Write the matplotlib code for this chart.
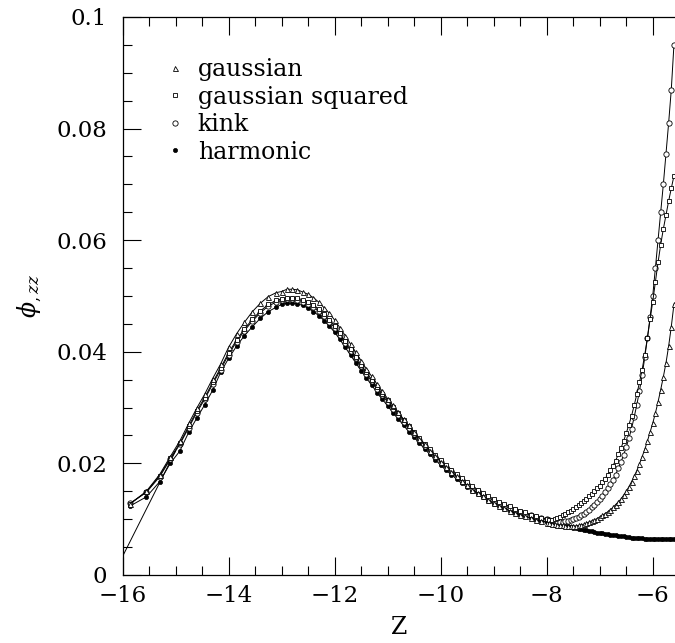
import numpy as np
import matplotlib
matplotlib.use("Agg")
import matplotlib.pyplot as plt
from matplotlib.lines import Line2D
from matplotlib.ticker import MultipleLocator, FuncFormatter

plt.rcParams['font.family'] = ['DejaVu Serif']
plt.rcParams['mathtext.fontset'] = 'dejavuserif'

# z grid: sparse on the left, 0.1 steps over the peak, 0.05 on the rising branches
z_left = [-15.85, -15.55, -15.30, -15.10, -14.92, -14.75, -14.60, -14.45, -14.30,
          -14.15, -14.00, -13.85, -13.70, -13.55, -13.40, -13.25, -13.10]
z_mid = np.linspace(-13.0, -8.0, 51)
z_right = np.linspace(-7.95, -5.60, 48)
z = np.concatenate([z_left, z_mid, z_right])

# gaussian (triangles)
gauss = [.0128, .0150, .0180, .0212, .0240, .0272, .0299, .0324, .0352, .0378, .0408,
         .0432, .0453, .0472, .0487, .0499, .0506,
         .0508, .0512, .0512, .0511, .0507, .0503, .0497, .0489, .0479, .0469, .0457,
         .0443, .0429, .0414, .0399, .0384, .0369, .0356, .0342, .0329, .0316, .0304,
         .0292, .0279, .0268, .0256, .0244, .0234, .0223, .0213, .0203, .0194, .0185,
         .0177, .0168, .0161, .0153, .0147, .0141, .0134, .0129, .0124, .0120, .0115,
         .0111, .0108, .0105, .0102, .0098, .0096, .0094,
         .0093, .0092, .0091, .0090, .0089, .0089, .0088, .0088, .0088, .0088, .0088,
         .0089, .0090, .0091, .0093, .0095, .0097, .0099, .0101, .0104, .0107, .0110,
         .0113, .0117, .0121, .0126, .0131, .0136, .0143, .0150, .0158, .0167, .0177,
         .0187, .0199, .0212, .0225, .0240, .0256, .0272, .0290, .0310, .0332, .0355,
         .0380, .0410, .0445, .0485]

# gaussian squared (squares)
gauss_sq = [.0128, .0149, .0178, .0209, .0236, .0267, .0294, .0318, .0345, .0371, .0398,
            .0421, .0441, .0458, .0473, .0485, .0492,
            .0495, .0497, .0497, .0496, .0493, .0489, .0483, .0476, .0467, .0457, .0446,
            .0433, .0419, .0405, .0391, .0377, .0363, .0350, .0337, .0325, .0313, .0301,
            .0290, .0278, .0267, .0256, .0245, .0235, .0225, .0215, .0206, .0197, .0189,
            .0181, .0173, .0166, .0159, .0153, .0147, .0141, .0136, .0131, .0127, .0123,
            .0119, .0115, .0112, .0108, .0105, .0102, .0100,
            .0099, .0099, .0100, .0102, .0104, .0107, .0109, .0112, .0115, .0118, .0121,
            .0125, .0129, .0133, .0137, .0141, .0145, .0150, .0155, .0160, .0166, .0172,
            .0180, .0188, .0196, .0205, .0216, .0227, .0240, .0254, .0269, .0285, .0304,
            .0324, .0345, .0368, .0395, .0425, .0458, .0490, .0525, .0560, .0592, .0620,
            .0645, .0670, .0693, .0715]

# kink (open circles)
kink = [.0129, .0148, .0176, .0207, .0234, .0264, .0291, .0315, .0342, .0368, .0395,
        .0418, .0438, .0455, .0470, .0482, .0489,
        .0492, .0494, .0494, .0493, .0490, .0486, .0480, .0473, .0464, .0454, .0443,
        .0430, .0416, .0402, .0388, .0374, .0360, .0347, .0334, .0322, .0310, .0298,
        .0287, .0275, .0264, .0253, .0242, .0232, .0222, .0212, .0203, .0194, .0186,
        .0178, .0170, .0163, .0156, .0150, .0144, .0138, .0133, .0128, .0124, .0120,
        .0116, .0113, .0110, .0107, .0104, .0102, .0100,
        .0098, .0097, .0096, .0095, .0095, .0095, .0096, .0097, .0098, .0100, .0102,
        .0104, .0107, .0110, .0113, .0117, .0121, .0126, .0131, .0136, .0142, .0148,
        .0155, .0163, .0171, .0180, .0191, .0202, .0215, .0229, .0245, .0262, .0283,
        .0305, .0330, .0358, .0390, .0425, .0462, .0500, .0550, .0600, .0650, .0700,
        .0755, .0810, .0870, .0950]

# harmonic (filled dots)
harmonic = [.0124, .0140, .0167, .0200, .0222, .0256, .0281, .0305, .0331, .0363, .0388,
            .0410, .0429, .0445, .0460, .0472, .0480,
            .0485, .0487, .0487, .0486, .0483, .0478, .0472, .0465, .0456, .0446, .0435,
            .0422, .0408, .0394, .0380, .0366, .0353, .0340, .0327, .0315, .0303, .0291,
            .0280, .0268, .0257, .0247, .0236, .0226, .0216, .0206, .0197, .0188, .0180,
            .0172, .0164, .0158, .0151, .0145, .0139, .0133, .0128, .0123, .0119, .0115,
            .0111, .0108, .0105, .0102, .0099, .0097, .0095,
            .0094, .0093, .0092, .0091, .0090, .0089, .0088, .0087, .0086, .0085, .0084,
            .0083, .0082, .0081, .0080, .0079, .0078, .0077, .0076, .0075, .0075, .0074,
            .0073, .0072, .0071, .0071, .0070, .0069, .0069, .0068, .0068, .0067, .0067,
            .0066, .0066, .0066, .0065, .0065, .0065, .0065, .0065, .0065, .0065, .0065,
            .0065, .0065, .0065, .0065]

# straight reference line at the left end
line_z = [-16.0, -15.0]
line_y = [0.0033, 0.0222]

labels = ["gaussian", "gaussian squared", "kink", "harmonic"]

fig = plt.figure(figsize=(6.75, 6.43), dpi=100)
ax = fig.add_axes([0.1815, 0.1058, 0.8185, 0.8678])

lw = 0.7
ax.plot(line_z, line_y, color='black', lw=lw)
ax.plot(z, harmonic, color='black', lw=lw, marker='o', ms=3.0,
        mfc='black', mec='black', mew=0.5)
ax.plot(z, kink, color='black', lw=lw, marker='o', ms=3.8,
        mfc='white', mec='black', mew=0.6)
ax.plot(z, gauss_sq, color='black', lw=lw, marker='s', ms=3.0,
        mfc='white', mec='black', mew=0.6)
ax.plot(z, gauss, color='black', lw=lw, marker='^', ms=3.6,
        mfc='white', mec='black', mew=0.6)

ax.set_xlim(-16, -5.58)
ax.set_ylim(0, 0.1)

ax.xaxis.set_major_locator(MultipleLocator(2))
ax.xaxis.set_minor_locator(MultipleLocator(0.5))
ax.yaxis.set_major_locator(MultipleLocator(0.02))
ax.yaxis.set_minor_locator(MultipleLocator(0.005))
ax.yaxis.set_major_formatter(FuncFormatter(lambda v, p: '0' if abs(v) < 1e-9 else f'{v:g}'))

ax.tick_params(which='both', direction='in', top=True, right=False, width=0.8)
ax.tick_params(which='major', length=13)
ax.tick_params(which='minor', length=6.5)
ax.tick_params(axis='x', labelsize=16.5, pad=7)
ax.tick_params(axis='y', labelsize=16.5, pad=11)
ax.spines['right'].set_visible(False)
for s in ['left', 'bottom', 'top']:
    ax.spines[s].set_linewidth(0.9)

ax.set_xlabel('Z', fontsize=17, labelpad=7)
ax.set_ylabel(r'$\phi_{,zz}$', fontsize=17, labelpad=9)

handles = [
    Line2D([], [], ls='none', marker='^', ms=3.6, mfc='white', mec='black', mew=0.6),
    Line2D([], [], ls='none', marker='s', ms=3.0, mfc='white', mec='black', mew=0.6),
    Line2D([], [], ls='none', marker='o', ms=3.8, mfc='white', mec='black', mew=0.6),
    Line2D([], [], ls='none', marker='o', ms=3.0, mfc='black', mec='black', mew=0.5),
]
ax.legend(handles, labels, loc='upper left', bbox_to_anchor=(0.084, 0.926),
          frameon=False, fontsize=17, handlelength=0.5, handletextpad=0.72,
          labelspacing=0.19, borderpad=0, borderaxespad=0)

fig.savefig('out.png', dpi=100)
